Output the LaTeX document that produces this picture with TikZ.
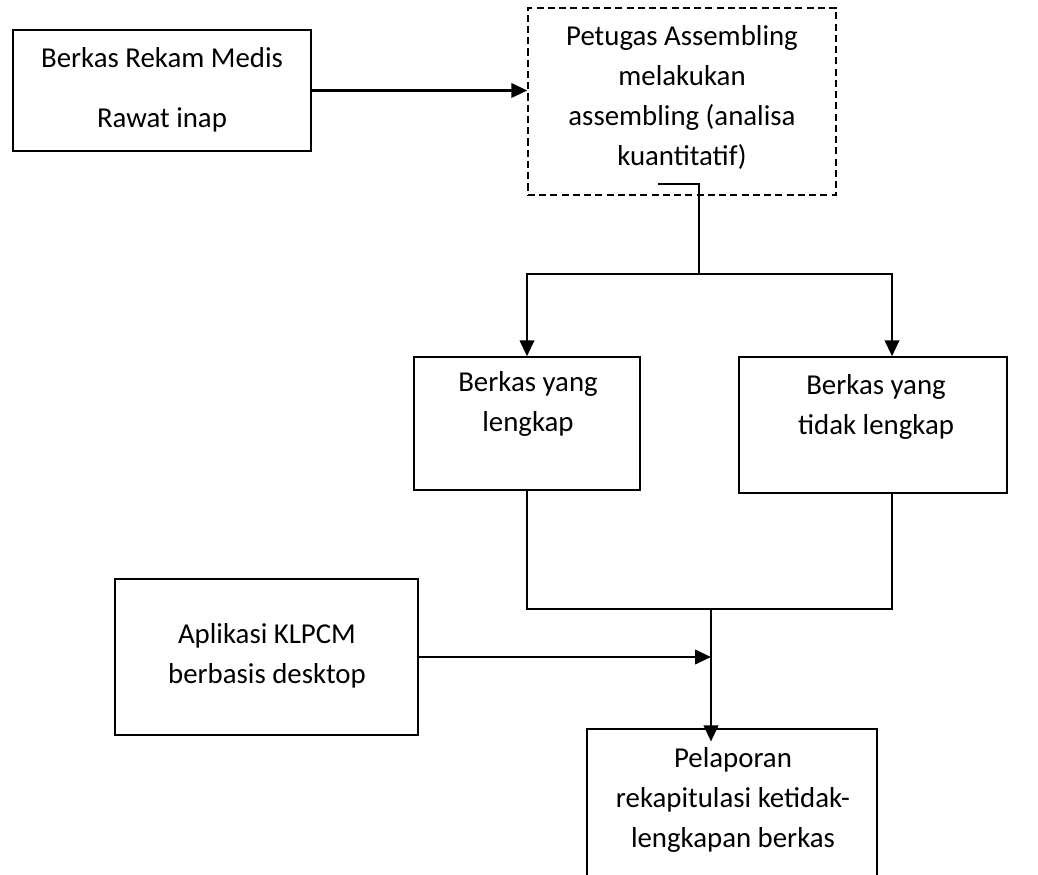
\documentclass[tikz,border=0pt]{standalone}
\usepackage{fontspec}
\setmainfont{Carlito}
\usetikzlibrary{positioning}
\usetikzlibrary{arrows.meta}
\tikzset{
    box/.style = {rectangle, draw=black, line width=1pt, inner sep=0pt},
    boxd/.style = {box, dash pattern=on 5pt off 3pt},
    txt/.style = {align=center, inner sep=0pt, font=\fontsize{20.5}{28.45}\selectfont},
    edgen/.style = {-{Triangle[length=0.4cm,width=0.36cm]}, line width=1.9pt},
    edgel/.style = {line width=1.9pt}
}

\begin{document}
\begin{tikzpicture}[x=0.025cm, y=-0.025cm]
\useasboundingbox (0,0) rectangle (1038,874);
%
\node[box, minimum width=7.45cm, minimum height=3.025cm] at (162,90.5) (rm) {};
\node[boxd, minimum width=7.7cm, minimum height=4.675cm] at (682,101.5) (pa) {};
\node[box, minimum width=5.65cm, minimum height=3.325cm] at (527,423.5) (bl) {};
\node[box, minimum width=6.7cm, minimum height=3.4cm] at (873,425) (bt) {};
\node[box, minimum width=7.575cm, minimum height=3.9cm] at (266.5,657) (ap) {};
\node[box, minimum width=7.25cm, minimum height=4.275cm] at (732,814.5) (pl) {};
%
\node[txt] at (162,90) (rmt) {Berkas Rekam Medis\\[0.5cm]Rawat inap};
\node[txt] at (682,97.5) (pat) {Petugas Assembling\\melakukan\\assembling (analisa\\kuantitatif)};
\node[txt] at (528,404) (blt) {Berkas yang\\lengkap};
\node[txt] at (876,407) (btt) {Berkas yang\\tidak lengkap};
\node[txt] at (267,656) (apt) {Aplikasi KLPCM\\berbasis desktop};
\node[txt] at (733,800) (plt) {Pelaporan\\rekapitulasi ketidak-\\lengkapan berkas};
%
\coordinate (pout) at (658,184);
\coordinate (split) at (699,274);
\coordinate (join) at (711,609);
%
\draw[edgen] (rm.east) -- (rm.east -| pa.west);
\draw[edgel] (pout) -| (split);
\draw[edgen] (split) -| (bl.north);
\draw[edgen] (split) -| ([xshift=0.475cm]bt.north);
\draw[edgel] (bl.south) |- (join);
\draw[edgel] ([xshift=0.475cm]bt.south) |- (join);
\draw[edgen] (ap.east) -- (ap.east -| join);
\draw[edgen, shorten >=-0.33cm] (join) -- (join |- pl.north);

\end{tikzpicture}
\end{document}
